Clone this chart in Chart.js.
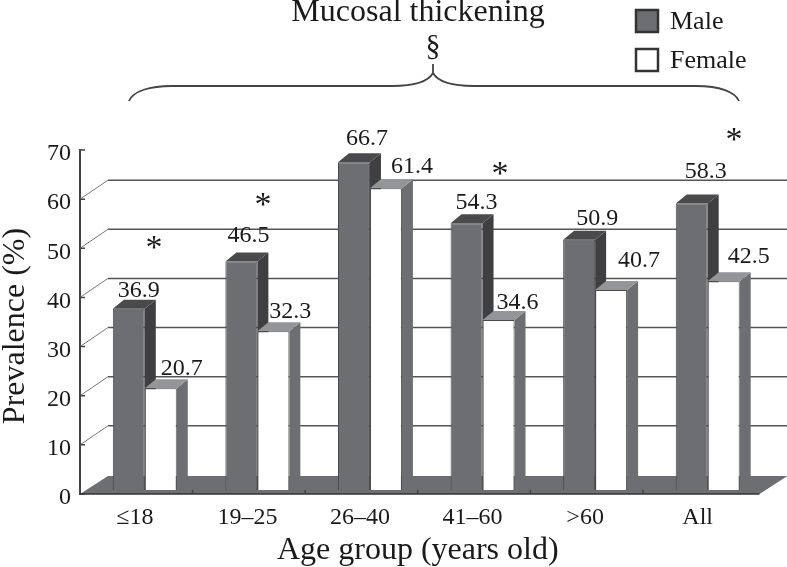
<!DOCTYPE html>
<html>
<head>
<meta charset="utf-8">
<title>Mucosal thickening</title>
<script src="https://cdn.jsdelivr.net/npm/chart.js@4"></script>
<style>
  html, body { margin: 0; padding: 0; background: #fff; }
  #wrap { width: 787px; height: 567px; }
</style>
</head>
<body>
<div id="wrap"><canvas id="chart" width="787" height="567"></canvas></div>
<script>
const categories = ['≤18', '19–25', '26–40', '41–60', '>60', 'All'];
const maleValues = [36.9, 46.5, 66.7, 54.3, 50.9, 58.3];
const femaleValues = [20.7, 32.3, 61.4, 34.6, 40.7, 42.5];
const gridValues = [10, 20, 30, 40, 50, 60];

// hand placed in the figure, offset from the middle/top of each bar
const maleNudge = [[10, -12], [7, -19], [13, -17], [10, -14], [18, -15], [14, -25]];
const femaleNudge = [[21, -13], [17, -13], [26, -15], [19, -11], [28, -23], [25, -18]];

const SERIF = '"Liberation Serif", serif';
const INK = '#1a1a1a';
const DARK = '#6d6e71';

// 3d look: wall sits behind the axes, the bars stand halfway in the floor
const WALL = { dx: 28, dy: -19 };
const FLOOR_EXTRA = 4; // floor and wall run a little past the last band
const BAR_SHIFT = { dx: 8.5, dy: -4 };
const DEPTH = { dx: 11, dy: -9 };

function poly(ctx, pts, fill) {
  ctx.beginPath();
  pts.forEach((p, i) => i ? ctx.lineTo(p[0], p[1]) : ctx.moveTo(p[0], p[1]));
  ctx.closePath();
  ctx.fillStyle = fill;
  ctx.fill();
}

function drawBack(chart) {
  const ctx = chart.ctx, x = chart.scales.x, y = chart.scales.y;
  const left = x.left, right = x.right + FLOOR_EXTRA, y0 = y.getPixelForValue(0);

  // floor
  poly(ctx, [[left, y0], [right, y0], [right + WALL.dx, y0 + WALL.dy + 1], [left + WALL.dx, y0 + WALL.dy + 1]], DARK);

  // wall lines
  gridValues.forEach(v => {
    const py = y.getPixelForValue(v);
    ctx.beginPath();
    ctx.moveTo(left, py);
    ctx.lineTo(left + WALL.dx, py + WALL.dy);
    ctx.strokeStyle = '#777';
    ctx.lineWidth = 1;
    ctx.stroke();
    ctx.beginPath();
    ctx.moveTo(left + WALL.dx, py + WALL.dy);
    ctx.lineTo(right + WALL.dx, py + WALL.dy);
    ctx.strokeStyle = '#555';
    ctx.lineWidth = 1.5;
    ctx.stroke();
  });

  // small inward ticks
  ctx.strokeStyle = '#444';
  ctx.lineWidth = 1.5;
  ctx.beginPath();
  y.ticks.forEach(t => {
    const py = y.getPixelForValue(t.value);
    ctx.moveTo(left, py);
    ctx.lineTo(left + 5, py);
  });
  const band = (x.right - x.left) / categories.length;
  for (let i = 1; i < categories.length; i++) {
    const px = x.getPixelForValue(i) - band / 2;
    ctx.moveTo(px, y0);
    ctx.lineTo(px, y0 - 4);
  }
  ctx.stroke();

  // bottom axis line sits over the floor
  ctx.beginPath();
  ctx.moveTo(left, y0);
  ctx.lineTo(right, y0);
  ctx.strokeStyle = '#333';
  ctx.lineWidth = 1.5;
  ctx.stroke();
}

function drawDepth(chart, index, sideFill, topFill) {
  const ctx = chart.ctx;
  const d = DEPTH;
  chart.getDatasetMeta(index).data.forEach(bar => {
    const l = bar.x - bar.width / 2 + BAR_SHIFT.dx;
    const r = bar.x + bar.width / 2 + BAR_SHIFT.dx;
    const top = bar.y + BAR_SHIFT.dy;
    const base = bar.base + BAR_SHIFT.dy;
    poly(ctx, [[r, top], [r + d.dx, top + d.dy], [r + d.dx, base + d.dy], [r, base]], sideFill);
    poly(ctx, [[l, top], [l + d.dx, top + d.dy], [r + d.dx, top + d.dy], [r, top]], topFill);
  });
}

function drawText(ctx, text, x, y, size, align) {
  ctx.font = size + 'px ' + SERIF;
  ctx.fillStyle = INK;
  ctx.textAlign = align || 'center';
  ctx.textBaseline = 'alphabetic';
  ctx.fillText(text, x, y);
}

function drawBarLabels(chart, index, values, nudge) {
  chart.getDatasetMeta(index).data.forEach((bar, i) => {
    drawText(chart.ctx, values[i].toFixed(1), bar.x + BAR_SHIFT.dx + nudge[i][0], bar.y + BAR_SHIFT.dy + nudge[i][1], 24);
  });
}

function drawBrace(ctx) {
  ctx.strokeStyle = '#444';
  ctx.lineWidth = 1.8;
  ctx.beginPath();
  ctx.moveTo(129, 101);
  ctx.bezierCurveTo(133, 91, 150, 86, 172, 86);
  ctx.lineTo(392, 86);
  ctx.bezierCurveTo(412, 86, 428, 82, 433, 73);
  ctx.lineTo(433, 64);
  ctx.moveTo(433, 73);
  ctx.bezierCurveTo(438, 82, 454, 86, 474, 86);
  ctx.lineTo(696, 86);
  ctx.bezierCurveTo(720, 86, 735, 92, 739, 101);
  ctx.stroke();
}

function drawLegend(chart) {
  const ctx = chart.ctx;
  const rows = [[10, chart.data.datasets[0]], [49, chart.data.datasets[1]]];
  rows.forEach(([top, ds]) => {
    ctx.fillStyle = ds.backgroundColor;
    ctx.strokeStyle = '#333';
    ctx.lineWidth = 2.5;
    ctx.fillRect(636, top, 22, 22);
    ctx.strokeRect(636, top, 22, 22);
    drawText(ctx, ds.label, 670, top + 19, 26, 'left');
  });
}

const figure3d = {
  id: 'figure3d',
  beforeDatasetsDraw(chart) {
    drawBack(chart);
    drawDepth(chart, 0, '#3f3f41', '#4a4a4c');
    drawDepth(chart, 1, DARK, '#939598');
    chart.ctx.save();
    chart.ctx.translate(BAR_SHIFT.dx, BAR_SHIFT.dy);
  },
  afterDatasetsDraw(chart) {
    const ctx = chart.ctx;
    ctx.restore();
    drawBarLabels(chart, 0, maleValues, maleNudge);
    drawBarLabels(chart, 1, femaleValues, femaleNudge);
    drawText(ctx, 'Mucosal thickening', 418, 21, 32);
    drawText(ctx, '§', 433, 55, 30);
    drawBrace(ctx);
    drawLegend(chart);
    drawText(ctx, '*', 154, 258, 34);
    drawText(ctx, '*', 263, 215, 34);
    drawText(ctx, '*', 500, 184, 34);
    drawText(ctx, '*', 734, 150, 34);

    // y title sits a little below the middle of the axis
    ctx.save();
    ctx.translate(24, 326);
    ctx.rotate(-Math.PI / 2);
    drawText(ctx, 'Prevalence (%)', 0, 0, 32);
    ctx.restore();
  }
};

new Chart(document.getElementById('chart'), {
  type: 'bar',
  data: {
    labels: categories,
    datasets: [
      { label: 'Male', data: maleValues, backgroundColor: DARK, borderColor: '#4a4a4c', borderWidth: 1 },
      { label: 'Female', data: femaleValues, backgroundColor: '#ffffff', borderColor: '#4a4a4c', borderWidth: 1 }
    ]
  },
  options: {
    responsive: false,
    animation: false,
    categoryPercentage: 0.568,
    barPercentage: 1,
    layout: { padding: { top: 150, right: 31.5, left: 0, bottom: 0 } },
    plugins: { legend: { display: false }, tooltip: { enabled: false } },
    scales: {
      x: {
        afterFit: s => { s.height = 73; },
        grid: { display: false, drawTicks: false },
        border: { display: false },
        ticks: { color: INK, font: { family: SERIF, size: 24 }, padding: 9, labelOffset: -1.5 },
        title: { display: true, text: 'Age group (years old)', color: INK, font: { family: SERIF, size: 32, lineHeight: 1 }, padding: { top: 2, bottom: 0 } }
      },
      y: {
        min: 0,
        max: 70,
        afterFit: s => { s.width = 80; },
        grid: { display: false, drawTicks: false },
        border: { display: true, color: '#444', width: 2 },
        ticks: { stepSize: 10, color: INK, font: { family: SERIF, size: 24 }, padding: 9, labelOffset: 4 }
      }
    }
  },
  plugins: [figure3d]
});
</script>
</body>
</html>
